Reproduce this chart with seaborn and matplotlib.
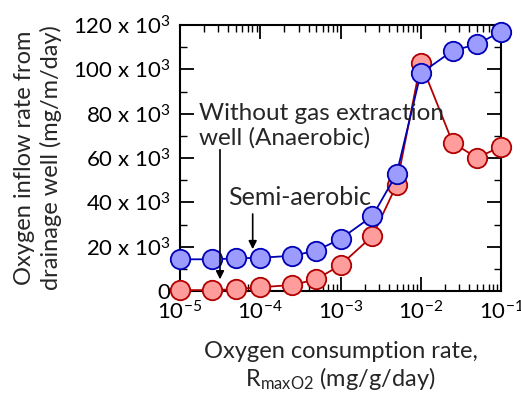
import numpy as np
import pandas as pd
import matplotlib
matplotlib.use("Agg")
import matplotlib.pyplot as plt
import seaborn as sns
from matplotlib.ticker import MultipleLocator, FixedLocator, LogLocator, NullFormatter

# Data
rate = [1e-5, 2.5e-5, 5e-5, 1e-4, 2.5e-4, 5e-4, 1e-3, 2.5e-3, 5e-3, 1e-2, 2.5e-2, 5e-2, 1e-1]
semi_aerobic = [14.3e3, 14.3e3, 14.7e3, 15.0e3, 15.9e3, 18.2e3, 23.5e3, 33.8e3, 52.8e3, 98.2e3, 108.4e3, 111.3e3, 117e3]
anaerobic = [0.4e3, 0.4e3, 0.8e3, 1.7e3, 2.7e3, 5.3e3, 11.7e3, 24.8e3, 47.8e3, 103e3, 66.9e3, 60.1e3, 65.1e3]
y_ticks = [0, 20e3, 40e3, 60e3, 80e3, 100e3, 120e3]
y_labels = ["0"] + [r"%d x 10$^{3}$" % (v / 1e3) for v in y_ticks[1:]]

sns.set_style("ticks")
plt.rcParams["font.family"] = ["Lato", "DejaVu Sans"]
plt.rcParams["mathtext.fontset"] = "custom"
plt.rcParams["mathtext.rm"] = "Lato"
plt.rcParams["mathtext.it"] = "Lato:italic"
plt.rcParams["mathtext.bf"] = "Lato:bold"

df = pd.DataFrame({"rate": rate * 2,
                   "inflow": anaerobic + semi_aerobic,
                   "case": ["Anaerobic"] * len(rate) + ["Semi-aerobic"] * len(rate)})

fig = plt.figure(figsize=(5.21, 3.94), dpi=100)
ax = fig.add_axes([180 / 521, 1 - 291 / 394, 321 / 521, 266 / 394])

styles = {"Anaerobic": ("#b00000", "#ff9c9c"), "Semi-aerobic": ("#0000b4", "#9c9cff")}
for case, (edge, face) in styles.items():
    sub = df[df["case"] == case]
    sns.lineplot(data=sub, x="rate", y="inflow", ax=ax, color=edge, lw=1.3,
                 marker="o", markersize=14, markerfacecolor=face,
                 markeredgecolor=edge, markeredgewidth=1.3, clip_on=False, zorder=3)

ax.set_xscale("log")
ax.set_xlim(1e-5, 1e-1)
ax.set_ylim(0, 120e3)
ax.yaxis.set_major_locator(FixedLocator(y_ticks))
ax.set_yticklabels(y_labels)
ax.yaxis.set_minor_locator(MultipleLocator(10e3))
ax.xaxis.set_major_locator(LogLocator(base=10, numticks=10))
ax.xaxis.set_minor_locator(LogLocator(base=10, subs=np.arange(2, 10), numticks=20))
ax.xaxis.set_minor_formatter(NullFormatter())

for s in ax.spines.values():
    s.set_linewidth(1.5)
    s.set_color("black")
    s.set_visible(True)
ax.tick_params(which="both", direction="in", top=True, right=True, labelsize=16, colors="black")
ax.tick_params(which="major", length=10, width=1.3, pad=7)
ax.tick_params(which="minor", length=5, width=1.0)

ax.set_xlabel("Oxygen consumption rate,\nR$_{\\mathrm{maxO2}}$ (mg/g/day)", fontsize=17,
              labelpad=12, linespacing=1.15)
ax.set_ylabel("Oxygen inflow rate from\ndrainage well (mg/m/day)", fontsize=17,
              labelpad=8, linespacing=1.25)

ax.annotate("", xy=(3.15e-5, 4e3), xytext=(3.15e-5, 65e3),
            arrowprops=dict(arrowstyle="-|>", color="black", lw=1.2, mutation_scale=12))
ax.text(1.73e-5, 65.9e3, "Without gas extraction\nwell (Anaerobic)", fontsize=17.5,
        ha="left", va="baseline", linespacing=1.2)
ax.annotate("", xy=(8.05e-5, 17.6e3), xytext=(8.05e-5, 36e3),
            arrowprops=dict(arrowstyle="-|>", color="black", lw=1.2, mutation_scale=12))
ax.text(4.0e-5, 38.8e3, "Semi-aerobic", fontsize=18, ha="left", va="baseline")

fig.savefig("out.png", dpi=100)
